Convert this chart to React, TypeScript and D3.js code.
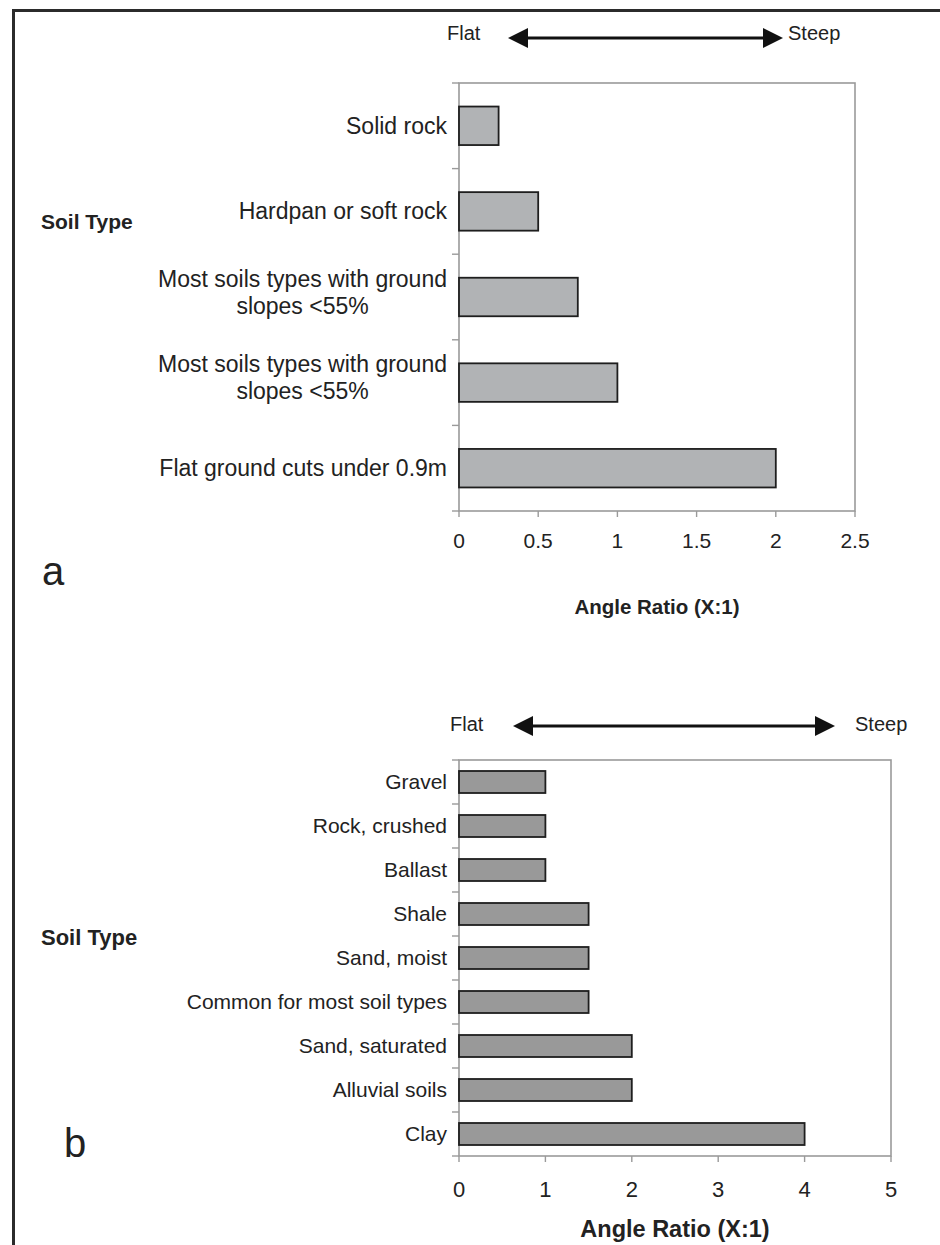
import { useEffect, useRef } from 'react'
import * as d3 from 'd3'

// panel a
const catsA = [
  'Solid rock',
  'Hardpan or soft rock',
  'Most soils types with ground\nslopes <55%',
  'Most soils types with ground\nslopes <55%',
  'Flat ground cuts under 0.9m',
]
const valsA = [0.25, 0.5, 0.75, 1, 2]
const ticksA = [0, 0.5, 1, 1.5, 2, 2.5]

// panel b
const catsB = [
  'Gravel',
  'Rock, crushed',
  'Ballast',
  'Shale',
  'Sand, moist',
  'Common for most soil types',
  'Sand, saturated',
  'Alluvial soils',
  'Clay',
]
const valsB = [1, 1, 1, 1.5, 1.5, 1.5, 2, 2, 4]
const ticksB = [0, 1, 2, 3, 4, 5]

const FONT = '"Liberation Sans", Arial, sans-serif'

interface PanelCfg {
  cats: string[]
  vals: number[]
  ticks: number[]
  left: number
  right: number
  top: number
  bottom: number
  fill: string
  padIn: number
  labelSize: number
  lineH: number
  tickSize: number
  tickY: number
  title: string
  titleSize: number
  titleY: number
  letter: string
  letterX: number
  letterY: number
  soilY: number
  soilSize: number
  arrowY: number
  arrowX0: number
  arrowX1: number
  flatX: number
  steepX: number
  wordY: number
}

const panels: PanelCfg[] = [
  {
    cats: catsA, vals: valsA, ticks: ticksA,
    left: 459, right: 855, top: 83, bottom: 511,
    fill: '#b1b3b5', padIn: 0.55, labelSize: 23, lineH: 27, tickSize: 21, tickY: 548,
    title: 'Angle Ratio (X:1)', titleSize: 20.5, titleY: 614,
    letter: 'a', letterX: 42, letterY: 585,
    soilY: 229, soilSize: 21,
    arrowY: 38, arrowX0: 508, arrowX1: 783, flatX: 447, steepX: 788, wordY: 40,
  },
  {
    cats: catsB, vals: valsB, ticks: ticksB,
    left: 459, right: 891, top: 760, bottom: 1156,
    fill: '#999999', padIn: 0.5, labelSize: 21, lineH: 25, tickSize: 22, tickY: 1197,
    title: 'Angle Ratio (X:1)', titleSize: 23.5, titleY: 1237,
    letter: 'b', letterX: 64, letterY: 1157,
    soilY: 945, soilSize: 22,
    arrowY: 726, arrowX0: 513, arrowX1: 835, flatX: 450, steepX: 855, wordY: 731,
  },
]

function drawPanel(svg: d3.Selection<SVGSVGElement, unknown, null, undefined>, p: PanelCfg) {
  const x = d3.scaleLinear().domain([0, p.ticks[p.ticks.length - 1]]).range([p.left, p.right])
  const y = d3.scaleBand<number>().domain(d3.range(p.cats.length)).range([p.top, p.bottom])
    .paddingInner(p.padIn).paddingOuter(p.padIn / 2)
  const step = y.step()
  const g = svg.append('g')

  // plot frame
  g.append('rect')
    .attr('x', p.left).attr('y', p.top)
    .attr('width', p.right - p.left).attr('height', p.bottom - p.top)
    .attr('fill', 'none').attr('stroke', '#9a9a9a').attr('stroke-width', 1.6)

  // y ticks at band boundaries
  const bounds = d3.range(p.cats.length + 1).map(i => p.top + i * step)
  g.selectAll('line.yt').data(bounds).enter().append('line')
    .attr('x1', p.left - 7).attr('x2', p.left)
    .attr('y1', d => d).attr('y2', d => d)
    .attr('stroke', '#9a9a9a').attr('stroke-width', 1.4)

  // x ticks
  g.selectAll('line.xt').data(p.ticks).enter().append('line')
    .attr('x1', d => x(d)).attr('x2', d => x(d))
    .attr('y1', p.bottom).attr('y2', p.bottom + 6)
    .attr('stroke', '#9a9a9a').attr('stroke-width', 1.4)
  g.selectAll('text.xl').data(p.ticks).enter().append('text')
    .attr('x', d => x(d)).attr('y', p.tickY)
    .attr('text-anchor', 'middle')
    .attr('font-family', FONT).attr('font-size', p.tickSize).attr('fill', '#222')
    .text(d => String(d))

  // bars
  g.selectAll('rect.bar').data(p.vals).enter().append('rect')
    .attr('x', x(0))
    .attr('y', (_, i) => y(i)!)
    .attr('width', d => x(d) - x(0))
    .attr('height', y.bandwidth())
    .attr('fill', p.fill).attr('stroke', '#1e1e1e').attr('stroke-width', 1.8)

  // category labels (lines centred on each other, block right aligned)
  const labelRight = 447
  p.cats.forEach((c, i) => {
    const lines = c.split('\n')
    const cy = y(i)! + y.bandwidth() / 2 - (lines.length > 1 ? 5 : 0)
    const texts = lines.map((ln, k) =>
      g.append('text')
        .attr('y', cy + (k - (lines.length - 1) / 2) * p.lineH)
        .attr('dy', '0.35em')
        .attr('font-family', FONT).attr('font-size', p.labelSize).attr('fill', '#222')
        .text(ln)
    )
    const w = d3.max(texts, t => (t.node() as SVGTextElement).getComputedTextLength()) || 0
    texts.forEach(t => t.attr('text-anchor', 'middle').attr('x', labelRight - w / 2))
  })

  // axis title
  g.append('text')
    .attr('x', (p.left + p.right) / 2).attr('y', p.titleY)
    .attr('text-anchor', 'middle')
    .attr('font-family', FONT).attr('font-size', p.titleSize).attr('font-weight', 'bold').attr('fill', '#222')
    .text(p.title)

  // Soil Type
  g.append('text')
    .attr('x', 41).attr('y', p.soilY)
    .attr('font-family', FONT).attr('font-size', p.soilSize).attr('font-weight', 'bold').attr('fill', '#222')
    .text('Soil Type')

  // panel letter
  g.append('text')
    .attr('x', p.letterX).attr('y', p.letterY)
    .attr('font-family', FONT).attr('font-size', 40).attr('fill', '#222')
    .text(p.letter)

  // Flat <-> Steep arrow
  g.append('line')
    .attr('x1', p.arrowX0 + 10).attr('x2', p.arrowX1 - 10)
    .attr('y1', p.arrowY).attr('y2', p.arrowY)
    .attr('stroke', '#111').attr('stroke-width', 3)
  const head = 20, hw = 10
  g.append('path')
    .attr('d', `M${p.arrowX0},${p.arrowY} L${p.arrowX0 + head},${p.arrowY - hw} L${p.arrowX0 + head},${p.arrowY + hw} Z`)
    .attr('fill', '#111')
  g.append('path')
    .attr('d', `M${p.arrowX1},${p.arrowY} L${p.arrowX1 - head},${p.arrowY - hw} L${p.arrowX1 - head},${p.arrowY + hw} Z`)
    .attr('fill', '#111')
  g.append('text')
    .attr('x', p.flatX).attr('y', p.wordY)
    .attr('font-family', FONT).attr('font-size', 20).attr('fill', '#222')
    .text('Flat')
  g.append('text')
    .attr('x', p.steepX).attr('y', p.wordY)
    .attr('font-family', FONT).attr('font-size', 20).attr('fill', '#222')
    .text('Steep')
}

export default function App() {
  const ref = useRef<SVGSVGElement>(null)

  useEffect(() => {
    if (!ref.current) return
    const svg = d3.select(ref.current)
    svg.selectAll('*').remove()

    svg.append('rect').attr('width', 940).attr('height', 1245).attr('fill', '#fff')

    // outer border (top + left)
    svg.append('path')
      .attr('d', 'M13.5,1245 L13.5,10.5 L940,10.5')
      .attr('fill', 'none').attr('stroke', '#2b2b2b').attr('stroke-width', 3)

    panels.forEach(p => drawPanel(svg, p))
  }, [])

  return (
    <svg
      ref={ref}
      width={940}
      height={1245}
      style={{ display: 'block', position: 'absolute', left: 0, top: 0 }}
    />
  )
}
